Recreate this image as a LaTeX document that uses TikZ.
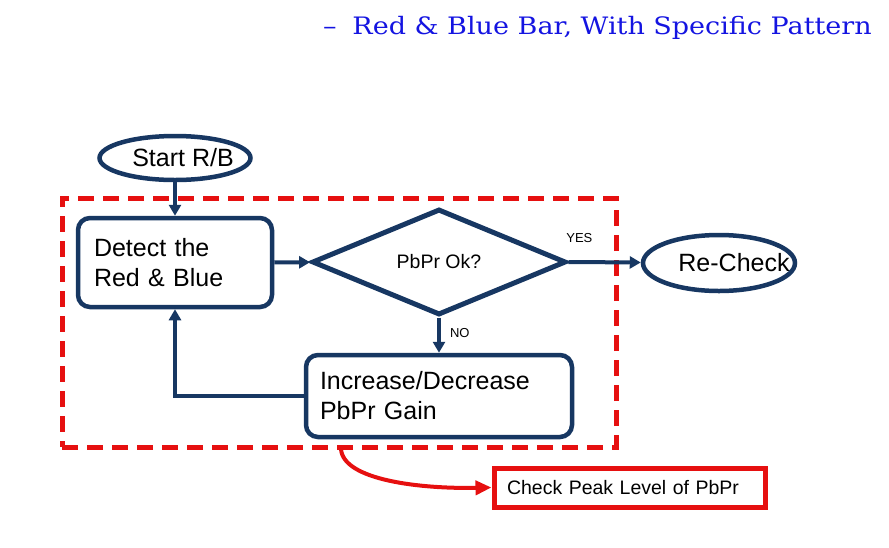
\documentclass[tikz,border=0pt]{standalone}
\usepackage{fontspec}
\setmainfont{Liberation Sans}
\newfontfamily\titlefont{DejaVu Serif}
\usetikzlibrary{shapes.geometric, arrows.meta, positioning, calc}
\definecolor{biruTua}{RGB}{23,55,98}
\definecolor{merahGaris}{RGB}{230,16,16}
\definecolor{biruJudul}{RGB}{20,20,225}

\begin{document}
\begin{tikzpicture}[
  x=1pt, y=-1pt,
  proses/.style={draw=biruTua, line width=4.5pt, rounded corners=12pt, fill=white,
    align=left, font=\fontsize{25}{30}\selectfont, inner sep=0pt},
  oval/.style={draw=biruTua, line width=4.5pt, ellipse, inner sep=0pt, fill=white},
  keputusan/.style={draw=biruTua, line width=5pt, diamond, inner sep=0pt,
    font=\fontsize{19.5}{22}\selectfont},
  panah/.style={-{Triangle[length=11pt, width=12pt]}, draw=biruTua, line width=4pt},
  kecil/.style={font=\fontsize{13}{15}\selectfont, inner sep=0pt},
  panahMerah/.style={-{Triangle[length=16pt, width=14pt]}, draw=merahGaris, line width=4pt}
]
  \useasboundingbox (0,0) rectangle (889,547);

  \node[font=\titlefont\fontsize{24}{28}\selectfont, text=biruJudul, anchor=base west,
    inner sep=0pt] (judul) at (323,34)
    {\scalebox{1.125}[1]{–\hspace{14pt}Red \& Blue Bar, With Specific Pattern}};

  % loop area
  \node[draw=merahGaris, line width=5pt, dash pattern=on 16pt off 9pt,
    minimum width=554pt, minimum height=249pt, inner sep=0pt] (loop) at (339,322.5) {};

  \node[oval, minimum width=151pt, minimum height=44pt,
    label={[font=\fontsize{25}{30}\selectfont, xshift=8pt]center:Start R/B}] (start) at (175,158) {};
  \node[proses, minimum width=194pt, minimum height=89pt, text width=162pt] (detect) at (175,262.5)
    {Detect the\\Red \& Blue};
  \node[keputusan, minimum width=254pt, minimum height=106pt] (ok) at (439,262) {PbPr Ok?};
  \node[oval, minimum width=152pt, minimum height=56pt,
    label={[font=\fontsize{25}{30}\selectfont, xshift=15pt]center:Re-Check}] (recheck) at (719,263) {};
  \node[proses, minimum width=266pt, minimum height=82pt, text width=238pt] (gain) at (439,396)
    {Increase/Decrease\\PbPr Gain};
  \node[draw=merahGaris, line width=5pt, fill=white, minimum width=271pt, minimum height=39pt,
    text width=245pt, inner sep=0pt, align=left, font=\fontsize{19.5}{22}\selectfont]
    (peak) at (629.5,487.5) {Check Peak Level of PbPr};

  \draw[panah] (start) -- (detect);
  \draw[panah] (detect) -- (ok);
  \draw[panah] (ok.east) -- node[kecil, pos=0.15, above=17pt] {YES} (recheck);
  \draw[panah] (ok.south) -- node[kecil, pos=0.43, right=9pt] {NO} (gain);
  \draw[panah] (gain.west) -| (detect.south);

  \coordinate (ekor) at (341,449);
  \draw[panahMerah] (ekor) .. controls (343,480) and (420,489) .. (peak.west);
\end{tikzpicture}
\end{document}
